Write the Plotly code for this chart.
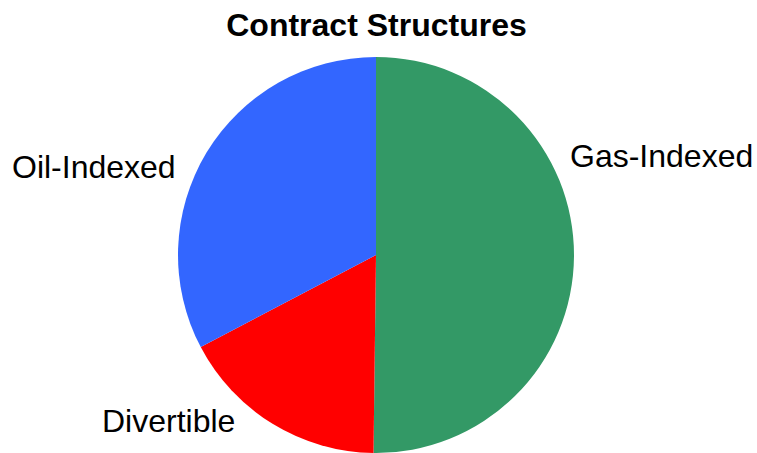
import plotly.graph_objects as go

# Share of contracts by pricing structure (%)
labels = ["Gas-Indexed", "Divertible", "Oil-Indexed"]
values = [50.2, 17.1, 32.7]
colors = ["#339966", "#FF0000", "#3366FF"]

W, H = 757, 453
M_L, M_R, M_T, M_B = 0, 5, 57, 0
plot_w = W - M_L - M_R
plot_h = H - M_T - M_B

# label anchor points in pixels (left edge, vertical centre)
label_pos = {
    "Gas-Indexed": (568, 156),
    "Oil-Indexed": (10, 167),
    "Divertible": (100, 421),
}

font_family = "Liberation Sans, Arial, sans-serif"

fig = go.Figure(
    go.Pie(
        labels=labels,
        values=values,
        marker=dict(colors=colors, line=dict(width=0)),
        sort=False,
        direction="clockwise",
        rotation=0,
        textinfo="none",
        hoverinfo="label+value",
        showlegend=False,
    )
)

annotations = []
for name in labels:
    px, py = label_pos[name]
    annotations.append(
        dict(
            text=name,
            x=(px - M_L) / plot_w,
            y=(H - M_B - py) / plot_h,
            xref="paper",
            yref="paper",
            xanchor="left",
            yanchor="middle",
            showarrow=False,
            font=dict(family=font_family, size=32, color="#000000"),
        )
    )

fig.update_layout(
    width=W,
    height=H,
    margin=dict(l=M_L, r=M_R, t=M_T, b=M_B),
    paper_bgcolor="white",
    plot_bgcolor="white",
    title=dict(
        text="<b>Contract Structures</b>",
        x=376.5 / W,
        xanchor="center",
        xref="container",
        y=1 - 25 / H,
        yanchor="middle",
        yref="container",
        font=dict(family=font_family, size=32, color="#000000"),
    ),
    annotations=annotations,
)

fig.write_html("out.html")
